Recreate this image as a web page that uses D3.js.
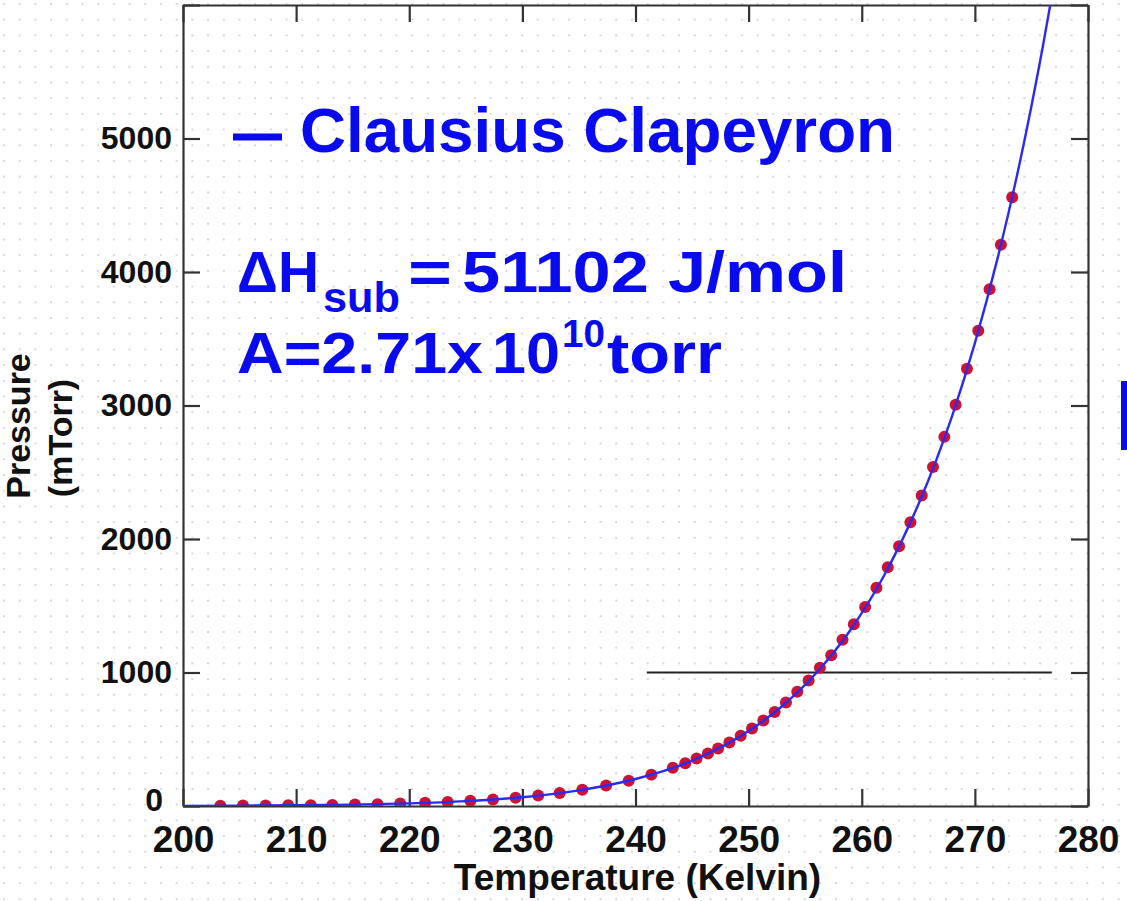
<!DOCTYPE html>
<html>
<head>
<meta charset="utf-8">
<script src="https://cdn.jsdelivr.net/npm/d3@7"></script>
<style>
  html, body { margin: 0; padding: 0; background: #fff; }
  svg { display: block; font-family: "Liberation Sans", Arial, sans-serif; }
</style>
</head>
<body>
<svg id="chart" width="1127" height="901"></svg>
<script>
// ---- data ----
const xTicks = [200, 210, 220, 230, 240, 250, 260, 270, 280];
const xTickLabels = ["200", "210", "220", "230", "240", "250", "260", "270", "280"];
const yTicks = [0, 1000, 2000, 3000, 4000, 5000, 6000];
const yTickLabels = ["0", "1000", "2000", "3000", "4000", "5000", ""];

// measured points (Kelvin, mTorr)
const measTemp = [203.3, 205.3, 207.3, 209.3, 211.3, 213.2, 215.2, 217.2, 219.2, 221.4,
  223.4, 225.4, 227.4, 229.4, 231.4, 233.3, 235.3, 237.4, 239.4, 241.4,
  243.3, 244.4, 245.4, 246.4, 247.3, 248.3, 249.3, 250.3, 251.3, 252.3,
  253.3, 254.3, 255.3, 256.3, 257.3, 258.3, 259.3, 260.3, 261.3, 262.3,
  263.3, 264.3, 265.3, 266.3, 267.3, 268.3, 269.3, 270.3, 271.3, 272.3, 273.3];
const measPressure = [2, 3, 4, 5, 6, 8, 11, 14, 18, 24,
  30, 39, 49, 62, 78, 97, 121, 153, 190, 235,
  287, 321, 355, 393, 431, 476, 526, 580, 640, 705,
  775, 855, 940, 1035, 1130, 1245, 1362, 1490, 1635, 1789,
  1945, 2125, 2325, 2540, 2765, 3005, 3275, 3560, 3870, 4205, 4560];

// Clausius-Clapeyron fit curve
const fitTemp = [200, 205, 210, 215, 220, 225, 230, 235, 240, 245, 250, 253, 256, 259,
  262, 265, 268, 270, 272, 274, 276, 277];
const fitPressure = [1.2, 2.6, 5.2, 10.3, 19.6, 36.5, 66, 117, 202, 339, 561, 751, 998, 1318,
  1730, 2258, 2925, 3467, 4100, 4831, 5686, 6160];

// horizontal reference line at 1000 mTorr
const refTemp = [241, 276.8];
const refPressure = [1000, 1000];

const legendLabel = "Clausius Clapeyron";
const xTitle = "Temperature (Kelvin)";
const yTitle1 = "Pressure";
const yTitle2 = "(mTorr)";

// ---- drawing ----
const svg = d3.select("#chart");
const W = 1127, H = 901;
const blue = "#0a0aef";

// dotted background
const defs = svg.append("defs");
const pat = defs.append("pattern").attr("id", "dots")
  .attr("width", 15.7).attr("height", 15.7).attr("patternUnits", "userSpaceOnUse");
pat.append("rect").attr("width", 15.7).attr("height", 15.7).attr("fill", "#fff");
pat.append("circle").attr("cx", 4).attr("cy", 4).attr("r", 1.1).attr("fill", "#d2d2d2");
svg.append("rect").attr("width", W).attr("height", H).attr("fill", "url(#dots)");

const x = d3.scaleLinear().domain([200, 280]).range([183, 1088]);
const y = d3.scaleLinear().domain([0, 6000]).range([806, 5]);

defs.append("clipPath").attr("id", "plotclip").append("rect")
  .attr("x", x(200)).attr("y", y(6000)).attr("width", x(280) - x(200)).attr("height", y(0) - y(6000));

const tickLen = 17;
const axisColor = "#333";

// axes with inward ticks on all four sides
const gBottom = svg.append("g").attr("transform", `translate(0,${y(0)})`)
  .call(d3.axisBottom(x).tickValues(xTicks).tickSize(-tickLen).tickSizeOuter(0)
    .tickFormat((d, i) => xTickLabels[i]).tickPadding(20));
const gTop = svg.append("g").attr("transform", `translate(0,${y(6000)})`)
  .call(d3.axisTop(x).tickValues(xTicks).tickSize(-tickLen).tickSizeOuter(0).tickFormat(""));
const gLeft = svg.append("g").attr("transform", `translate(${x(200)},0)`)
  .call(d3.axisLeft(y).tickValues(yTicks).tickSize(-tickLen).tickSizeOuter(0)
    .tickFormat((d, i) => yTickLabels[i]).tickPadding(11));
const gRight = svg.append("g").attr("transform", `translate(${x(280)},0)`)
  .call(d3.axisRight(y).tickValues(yTicks).tickSize(-tickLen).tickSizeOuter(0).tickFormat(""));

[gBottom, gTop, gLeft, gRight].forEach(g => {
  g.select(".domain").attr("stroke", axisColor).attr("stroke-width", 2.2);
  g.selectAll(".tick line").attr("stroke", axisColor).attr("stroke-width", 2.2);
});
gBottom.selectAll(".tick text")
  .attr("font-size", 37).attr("font-weight", "bold").attr("fill", "#111")
  .attr("font-family", "'Liberation Sans', Arial, sans-serif");
gLeft.selectAll(".tick text")
  .attr("font-size", 32).attr("font-weight", "bold").attr("fill", "#111")
  .attr("font-family", "'Liberation Sans', Arial, sans-serif");
// the "0" label sits slightly tucked in and raised
gLeft.selectAll(".tick").filter(d => d === 0).select("text")
  .attr("x", -20).attr("dy", "0.15em");

// axis titles
svg.append("text").attr("x", (x(200) + x(280)) / 2 + 2).attr("y", 890)
  .attr("text-anchor", "middle").attr("font-size", 37).attr("font-weight", "bold").attr("fill", "#111")
  .text(xTitle);
svg.append("text").attr("transform", "translate(30,426) rotate(-90)")
  .attr("text-anchor", "middle").attr("font-size", 34).attr("font-weight", "bold").attr("fill", "#111")
  .text(yTitle1);
svg.append("text").attr("transform", "translate(72,438) rotate(-90)")
  .attr("text-anchor", "middle").attr("font-size", 34).attr("font-weight", "bold").attr("fill", "#111")
  .text(yTitle2);

// plot contents
const plot = svg.append("g").attr("clip-path", "url(#plotclip)");

plot.append("path")
  .datum(refTemp.map((t, i) => [t, refPressure[i]]))
  .attr("d", d3.line().x(d => x(d[0])).y(d => y(d[1])))
  .attr("stroke", "#222").attr("stroke-width", 2.2).attr("fill", "none");

plot.selectAll("circle.meas")
  .data(measTemp.map((t, i) => [t, measPressure[i]]))
  .join("circle").attr("class", "meas")
  .attr("cx", d => x(d[0])).attr("cy", d => y(d[1])).attr("r", 6)
  .attr("fill", "#cc1235");

plot.append("path")
  .datum(fitTemp.map((t, i) => [t, fitPressure[i]]))
  .attr("d", d3.line().curve(d3.curveMonotoneX).x(d => x(d[0])).y(d => y(d[1])))
  .attr("stroke", "#2a2af0").attr("stroke-width", 2.4).attr("fill", "none");

// legend
svg.append("line").attr("x1", 233).attr("x2", 282).attr("y1", 137).attr("y2", 137)
  .attr("stroke", blue).attr("stroke-width", 7);
svg.append("text").attr("x", 300).attr("y", 152)
  .attr("font-size", 63).attr("font-weight", "bold").attr("fill", blue)
  .attr("textLength", 595).attr("lengthAdjust", "spacingAndGlyphs")
  .text(legendLabel);

// annotation: ΔHsub = 51102 J/mol
const ann = svg.append("g").attr("fill", blue).attr("font-weight", "bold");
ann.append("text").attr("x", 237).attr("y", 292).attr("font-size", 57)
  .attr("textLength", 82).attr("lengthAdjust", "spacingAndGlyphs").text("ΔH");
ann.append("text").attr("x", 323).attr("y", 312).attr("font-size", 42)
  .attr("textLength", 77).attr("lengthAdjust", "spacingAndGlyphs").text("sub");
ann.append("text").attr("x", 408).attr("y", 292).attr("font-size", 57)
  .attr("textLength", 44).attr("lengthAdjust", "spacingAndGlyphs").text("=");
ann.append("text").attr("x", 462).attr("y", 292).attr("font-size", 58)
  .attr("textLength", 385).attr("lengthAdjust", "spacingAndGlyphs").text("51102 J/mol");

// annotation: A=2.71x 10^10 torr
ann.append("text").attr("x", 237).attr("y", 373).attr("font-size", 58)
  .attr("textLength", 246).attr("lengthAdjust", "spacingAndGlyphs").text("A=2.71x");
ann.append("text").attr("x", 492).attr("y", 373).attr("font-size", 58)
  .attr("textLength", 68).attr("lengthAdjust", "spacingAndGlyphs").text("10");
ann.append("text").attr("x", 562).attr("y", 347).attr("font-size", 38)
  .attr("textLength", 43).attr("lengthAdjust", "spacingAndGlyphs").text("10");
ann.append("text").attr("x", 607).attr("y", 373).attr("font-size", 58)
  .attr("textLength", 115).attr("lengthAdjust", "spacingAndGlyphs").text("torr");

// cropped blue marker at the right edge
svg.append("rect").attr("x", 1121).attr("y", 381).attr("width", 8).attr("height", 69).attr("fill", blue);
</script>
</body>
</html>
